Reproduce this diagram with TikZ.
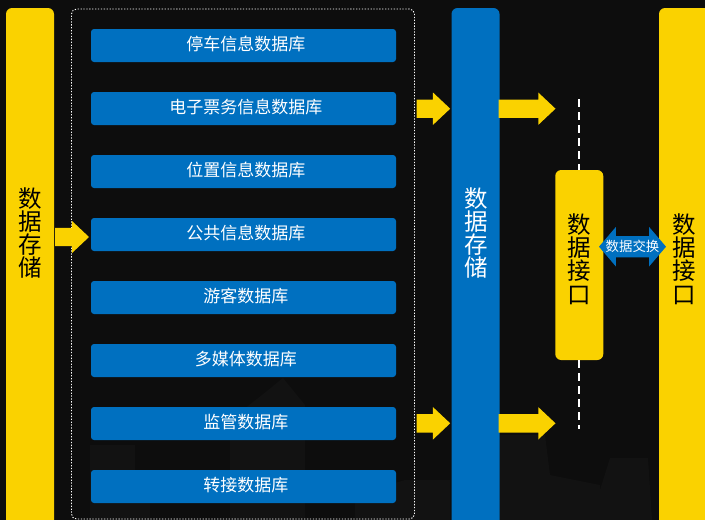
\documentclass[tikz,border=0pt]{standalone}
\usepackage{fontspec}
\setmainfont{Noto Sans CJK SC}
\usetikzlibrary{shapes.arrows}
\definecolor{bgc}{HTML}{0D0D0D}
\definecolor{ylw}{HTML}{FAD200}
\definecolor{blu}{HTML}{0070C0}
\definecolor{bld}{HTML}{121212}
\tikzset{
 x=1pt,y=-1pt,
 bar/.style={minimum width=#1,rounded corners=6pt,inner sep=0pt,align=center,anchor=center},
 bartext/.style={font=\fontsize{23.5}{23.3}\selectfont,align=center,inner sep=0pt},
 row/.style={fill=blu,text=white,minimum width=305pt,minimum height=33pt,rounded corners=3pt,inner sep=0pt,
   font=\fontsize{17}{20}\selectfont,text height=14pt,text depth=3.5pt,execute at begin node=\hspace*{4.5pt}},
 blockarrow/.style={single arrow,fill=ylw,draw=none,inner sep=9pt,text height=0pt,text depth=0pt,text width=0pt,
   outer sep=0pt,single arrow head extend=7pt,single arrow head indent=0pt,single arrow tip angle=86.5,
   minimum width=32pt,anchor=tail},
 exchange/.style={double arrow,fill=blu,draw=none,text=white,inner sep=0pt,
   outer sep=0pt,double arrow head extend=9pt,double arrow head indent=0pt,double arrow tip angle=99,
   minimum width=39pt,minimum height=67pt,text height=14pt,text depth=7pt,text width=0pt},
 link/.style={white,line width=1.6pt,dash pattern=on 8pt off 5pt},
 building/.style={fill=bld,draw=none},
}
\begin{document}
\begin{tikzpicture}
\clip (0,0) rectangle (705,520);
\fill[bgc] (0,0) rectangle (705,520);
% faint skyline
\fill[building] (90,520) -- (90,445) -- (135,445) -- (135,470) -- (150,470) -- (150,520) -- cycle;
\fill[building] (230,520) -- (230,420) -- (262,395) -- (283,378) -- (305,405) -- (305,520) -- cycle;
\fill[building] (355,520) -- (355,495) -- (405,480) -- (450,480) -- (450,520) -- cycle;
\fill[building] (500,520) -- (500,435) -- (545,435) -- (550,475) -- (600,485) -- (600,520) -- cycle;
\fill[building] (600,520) -- (600,490) -- (610,458) -- (648,458) -- (652,520) -- cycle;
% frame
\node[draw=white,dash pattern=on 1.3pt off 1.6pt,line width=0.9pt,rounded corners=5pt,minimum width=343pt,minimum height=510pt,inner sep=0pt] (frame) at (243,264) {};
% bars
\node[bar=48pt,fill=ylw,minimum height=520pt] (store) at (30,268) {};
\node[bar=48pt,fill=blu,minimum height=520pt] (midstore) at (475.5,268) {};
\node[bar=48pt,fill=ylw,minimum height=190pt] (iface) at (579.25,265) {};
\node[bar=60pt,fill=ylw,minimum height=520pt] (outer) at (689,268) {};
\node[bartext,text=black] (t1) at (30,233) {数\\据\\存\\储};
\node[bartext,text=white] (t2) at (476,233) {数\\据\\存\\储};
\node[bartext,text=black] (t3) at (579.5,259) {数\\据\\接\\口};
\node[bartext,text=black] (t4) at (684.5,259) {数\\据\\接\\口};
% rows
\node[row] (r1) at (243.5,45.5) {停车信息数据库};
\node[row] (r2) at (243.5,108.5) {电子票务信息数据库};
\node[row] (r3) at (243.5,171.5) {位置信息数据库};
\node[row] (r4) at (243.5,234.5) {公共信息数据库};
\node[row] (r5) at (243.5,297.5) {游客数据库};
\node[row] (r6) at (243.5,360.5) {多媒体数据库};
\node[row] (r7) at (243.5,423.5) {监管数据库};
\node[row] (r8) at (243.5,486.5) {转接数据库};
% arrows
\node[blockarrow,minimum height=34pt] (a0) at (55,237) {};
\node[blockarrow,minimum height=33.5pt] (a1) at (416.7,108.7) {};
\node[blockarrow,minimum height=33.5pt] (a2) at (416.7,423.3) {};
\node[blockarrow,minimum height=57pt] (a3) at (498.5,108.7) {};
\node[blockarrow,minimum height=57pt] (a4) at (498.5,423.3) {};
% dashed links
\coordinate (d1) at (579.25,99);
\coordinate (d2) at (579.25,429);
\draw[link] (d1) -- (iface.north);
\draw[link] (iface.south) -- (d2);
% exchange
\node[exchange] (ex) at (632.5,246.7) {};
\node[text=white,inner sep=0pt,font=\fontsize{13.4}{14}\selectfont] (extext) at (ex.center) {数据交换};
\end{tikzpicture}
\end{document}
